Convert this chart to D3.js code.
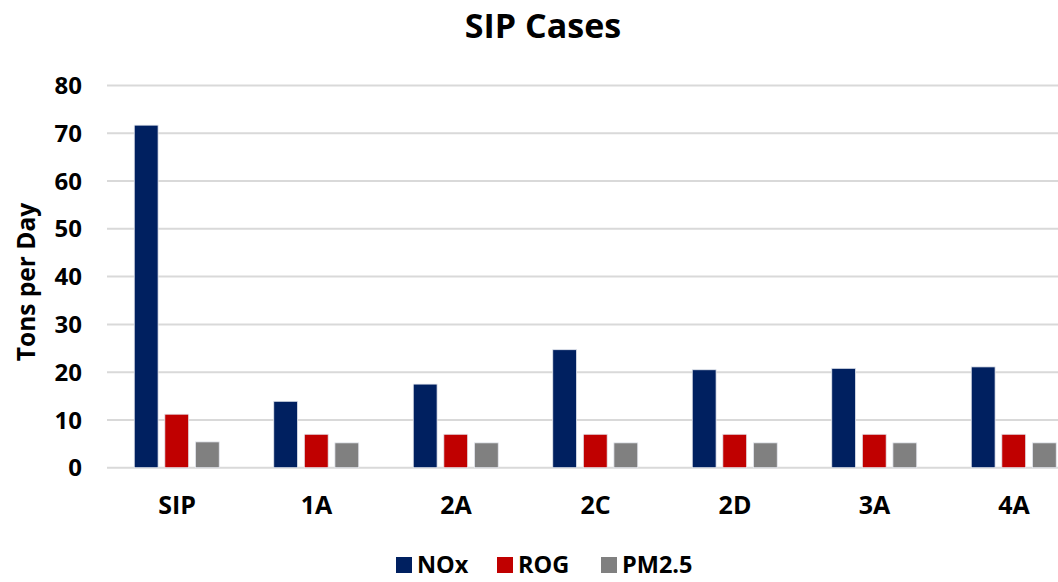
<!DOCTYPE html>
<html><head><meta charset="utf-8">
<script src="https://cdn.jsdelivr.net/npm/d3@7"></script>
<style>
html,body{margin:0;padding:0;background:#fff;overflow:hidden}
text{font-family:"Open Sans",Lato,sans-serif;font-weight:bold;fill:#000}
</style></head>
<body><svg id="c" width="1058" height="582"></svg>
<script>
const categories = ["SIP","1A","2A","2C","2D","3A","4A"];
const seriesNames = ["NOx","ROG","PM2.5"];
const NOx = [71.7, 13.9, 17.5, 24.7, 20.5, 20.8, 21.1];
const ROG = [11.2, 7.0, 7.0, 7.0, 7.0, 7.0, 7.0];
const PM25 = [5.4, 5.2, 5.2, 5.2, 5.2, 5.2, 5.2];
const yTicks = [0,10,20,30,40,50,60,70,80];
const colors = ["#002060","#C00000","#808080"];

const svg = d3.select("#c");
const values = [NOx, ROG, PM25];
const y = d3.scaleLinear().domain([0,80]).range([467.7, 85.5]);
const x0 = d3.scaleBand().domain(categories).range([107.25, 1083.75]).padding(0);
const x1 = d3.scaleBand().domain(seriesNames).range([27, 112]).paddingInner(0.22).paddingOuter(0);

// gridlines
svg.append("g").selectAll("line").data(yTicks).join("line")
  .attr("x1", 107).attr("x2", 1058)
  .attr("y1", d => y(d)).attr("y2", d => y(d))
  .attr("stroke", "#d9d9d9").attr("stroke-width", 2);

// y tick labels
svg.append("g").selectAll("text").data(yTicks).join("text")
  .attr("x", 82).attr("y", d => y(d)).attr("dy", "0.36em")
  .attr("text-anchor", "end").attr("font-size", 24).text(d => d);

// bars
const rows = categories.map((c,i) => ({c, v: seriesNames.map((s,j)=>({s, val: values[j][i], j}))}));
const g = svg.append("g").selectAll("g").data(rows).join("g")
  .attr("transform", d => `translate(${x0(d.c)},0)`);
g.selectAll("rect").data(d => d.v).join("rect")
  .attr("x", d => x1(d.s)).attr("width", x1.bandwidth())
  .attr("y", d => y(d.val)).attr("height", d => y(0) - y(d.val))
  .attr("fill", d => colors[d.j]).attr("stroke", "#e6e9f0").attr("stroke-width", 0.8);

// category labels
svg.append("g").selectAll("text").data(categories).join("text")
  .attr("x", d => x0(d) + x0.bandwidth()/2).attr("y", 514)
  .attr("text-anchor", "middle").attr("font-size", 25).text(d => d);

// title
svg.append("text").attr("x", 543).attr("y", 38).attr("text-anchor", "middle")
  .attr("font-size", 34).text("SIP Cases");

// y axis title
svg.append("text").attr("transform", "translate(35,282) rotate(-90)")
  .attr("text-anchor", "middle").attr("font-size", 24.5).text("Tons per Day");

// legend
const legX = [396, 497, 601];
const lg = svg.append("g").selectAll("g").data(seriesNames).join("g")
  .attr("transform", (d,i) => `translate(${legX[i]},557)`);
lg.append("rect").attr("width", 16).attr("height", 16).attr("fill", (d,i) => colors[i]);
lg.append("text").attr("x", 21).attr("y", 8).attr("dy", "0.36em").attr("font-size", 23.5).text(d => d);
</script></body></html>
